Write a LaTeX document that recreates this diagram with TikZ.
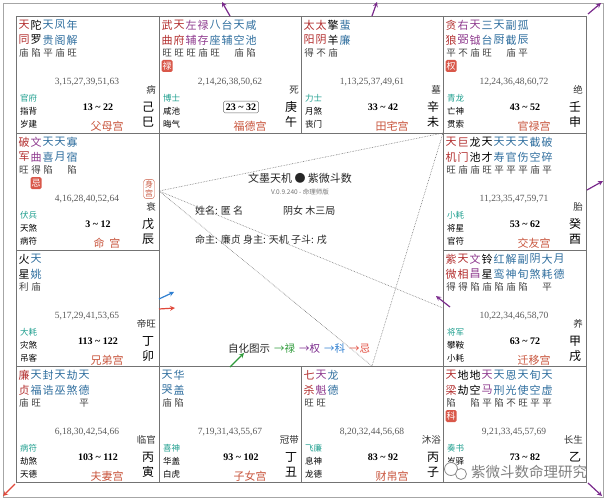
\documentclass[tikz,border=0pt]{standalone}
\usepackage{fontspec}
\setmainfont{Liberation Serif}
\newfontfamily\cjk{Noto Sans CJK SC}
\usetikzlibrary{arrows}

\definecolor{zhuxing}{HTML}{B22E2E}
\definecolor{fuxing}{HTML}{8E3A8E}
\definecolor{zaxing}{HTML}{2F6E9E}
\definecolor{boshi}{HTML}{1E9E8E}
\definecolor{gongming}{HTML}{C8553D}
\definecolor{huabg}{HTML}{D9584A}
\definecolor{lu}{HTML}{2E9A3A}
\definecolor{quan}{HTML}{7A2A8C}
\definecolor{ke}{HTML}{2F7FD0}
\definecolor{ji}{HTML}{E0483A}

\tikzstyle{star} = [inner sep=0pt, font=\cjk\fontsize{11}{11}\selectfont]
\tikzstyle{bright} = [inner sep=0pt, text=black!75, font=\cjk\fontsize{9.5}{10}\selectfont]
\tikzstyle{hua} = [inner sep=0pt, minimum width=11pt, minimum height=12pt, fill=huabg, rounded corners=1.5pt, text=white, font=\cjk\fontsize{9}{9}\selectfont]
\tikzstyle{nums} = [inner sep=0pt, text=black!65, font=\fontsize{9.5}{10}\selectfont]
\tikzstyle{small} = [inner sep=0pt, anchor=west, font=\cjk\fontsize{8.5}{9}\selectfont]
\tikzstyle{ages} = [inner sep=0pt, font=\bfseries\fontsize{10}{10}\selectfont]
\tikzstyle{gong} = [inner sep=0pt, text=gongming, font=\cjk\fontsize{11}{11}\selectfont]
\tikzstyle{ganzhi} = [inner sep=0pt, font=\cjk\fontsize{12}{12}\selectfont]
\tikzstyle{stage} = [inner sep=0pt, anchor=east, text=black!80, font=\cjk\fontsize{9.5}{10}\selectfont]
\tikzstyle{center} = [inner sep=0pt, text=black!85, font=\cjk\fontsize{10}{10}\selectfont]
\tikzstyle{arrow} = [->, >=stealth, line width=1.2pt]
\tikzstyle{sanfang} = [densely dotted, black!55, line width=0.6pt]

\newcommand{\til}{\textasciitilde}
% stars: colour/upper/lower/brightness
\newcommand{\xingyao}[2]{%
  \foreach \clr/\shang/\xia/\liang [count=\i from 0] in {#2} {
    \node[star, text=\clr] (#1-a\i) at (8+12*\i,9) {\shang};
    \node[star, text=\clr] (#1-b\i) at (8+12*\i,24) {\xia};
    \node[bright] (#1-m\i) at (8+12*\i,37) {\liang};
  }}
\newcommand{\huaji}[3]{\node[hua] (#1-hua) at (8+12*#2,50) {#3};}
\newcommand{\shensha}[4]{%
  \node[small, text=boshi] (#1-boshi) at (4,82) {#2};
  \node[small] (#1-jiang) at (4,95) {#3};
  \node[small] (#1-sui) at (4,108) {#4};}
\newcommand{\gongwei}[7]{%
  \node[nums] (#1-nums) at (71,66) {#2};
  \node[ages] (#1-age) at (82,91) {#3};
  \node[stage] (#1-stage) at (140,74) {#4};
  \node[ganzhi] (#1-gan) at (132,91) {#5};
  \node[ganzhi] (#1-zhi) at (132,106) {#6};
  \node[gong] (#1-name) at (91,110) {#7};}

\begin{document}
\begin{tikzpicture}[x=1pt, y=-1pt]
  \useasboundingbox (0,0) rectangle (607,500);
  \draw[black!35, line width=0.6pt] (3,3) rectangle (603,497);

  % grid
  \draw[black!55, line width=0.8pt] (16,16) rectangle (586,482);
  \draw[black!55, line width=0.8pt] (16,133) -- (586,133);
  \draw[black!55, line width=0.8pt] (16,366) -- (586,366);
  \draw[black!55, line width=0.8pt] (16,250) -- (159,250);
  \draw[black!55, line width=0.8pt] (443,250) -- (586,250);
  \draw[black!55, line width=0.8pt] (159,16) -- (159,482);
  \draw[black!55, line width=0.8pt] (443,16) -- (443,482);
  \draw[black!55, line width=0.8pt] (301,16) -- (301,133);
  \draw[black!55, line width=0.8pt] (301,366) -- (301,482);

  % si
  \begin{scope}[shift={(16,16)}]
    \xingyao{si}{zhuxing/天/同/庙, black/陀/罗/陷, zaxing/天/贵/平, zaxing/凤/阁/庙, zaxing/年/解/旺}
    \shensha{si}{官府}{指背}{岁建}
    \gongwei{si}{3,15,27,39,51,63}{13 \til{} 22}{病}{己}{巳}{父母宫}
  \end{scope}
  % wu
  \begin{scope}[shift={(159,16)}]
    \xingyao{wu}{zhuxing/武/曲/旺, zhuxing/天/府/旺, fuxing/左/辅/旺, fuxing/禄/存/庙, zaxing/八/座/旺, zaxing/台/辅/{}, zaxing/天/空/庙, zaxing/咸/池/陷}
    \huaji{wu}{0}{禄}
    \shensha{wu}{博士}{咸池}{晦气}
    \gongwei{wu}{2,14,26,38,50,62}{}{死}{庚}{午}{福德宫}
    \node[ages, draw=black!60, rounded corners=1.5pt, inner sep=2.5pt] (wu-agebox) at (82,91) {23 \til{} 32};
  \end{scope}
  % wei
  \begin{scope}[shift={(301,16)}]
    \xingyao{wei}{zhuxing/太/阳/得, zhuxing/太/阴/不, black/擎/羊/庙, zaxing/蜚/廉/{}}
    \shensha{wei}{力士}{月煞}{丧门}
    \gongwei{wei}{1,13,25,37,49,61}{33 \til{} 42}{墓}{辛}{未}{田宅宫}
  \end{scope}
  % shen
  \begin{scope}[shift={(443,16)}]
    \xingyao{shen}{zhuxing/贪/狼/平, fuxing/右/弼/不, fuxing/天/钺/庙, zaxing/三/台/旺, zaxing/天/厨/{}, zaxing/副/截/庙, zaxing/孤/辰/平}
    \huaji{shen}{0}{权}
    \shensha{shen}{青龙}{亡神}{贯索}
    \gongwei{shen}{12,24,36,48,60,72}{43 \til{} 52}{绝}{壬}{申}{官禄宫}
  \end{scope}
  % chen
  \begin{scope}[shift={(16,133)}]
    \xingyao{chen}{zhuxing/破/军/旺, fuxing/文/曲/得, zaxing/天/喜/陷, zaxing/天/月/{}, zaxing/寡/宿/陷}
    \huaji{chen}{1}{忌}
    \node[draw=gongming, rounded corners=3pt, inner sep=1.5pt, align=center, text=gongming, font=\cjk\fontsize{8}{9}\selectfont] (shengong) at (133,56) {身\\宫};
    \shensha{chen}{伏兵}{天煞}{病符}
    \gongwei{chen}{4,16,28,40,52,64}{3 \til{} 12}{衰}{戊}{辰}{命\hspace{5pt}宫}
  \end{scope}
  % you
  \begin{scope}[shift={(443,133)}]
    \xingyao{you}{zhuxing/天/机/旺, zhuxing/巨/门/庙, black/龙/池/庙, black/天/才/旺, zaxing/天/寿/平, zaxing/天/官/平, zaxing/天/伤/平, zaxing/截/空/庙, zaxing/破/碎/平}
    \shensha{you}{小耗}{将星}{官符}
    \gongwei{you}{11,23,35,47,59,71}{53 \til{} 62}{胎}{癸}{酉}{交友宫}
  \end{scope}
  % mao
  \begin{scope}[shift={(16,250)}]
    \xingyao{mao}{black/火/星/利, zaxing/天/姚/庙}
    \shensha{mao}{大耗}{灾煞}{吊客}
    \gongwei{mao}{5,17,29,41,53,65}{113 \til{} 122}{帝旺}{丁}{卯}{兄弟宫}
  \end{scope}
  % xu
  \begin{scope}[shift={(443,250)}]
    \xingyao{xu}{zhuxing/紫/微/得, zhuxing/天/相/得, fuxing/文/昌/陷, black/铃/星/庙, zaxing/红/鸾/陷, zaxing/解/神/庙, zaxing/副/旬/陷, zaxing/阴/煞/{}, zaxing/大/耗/平, zaxing/月/德/{}}
    \shensha{xu}{将军}{攀鞍}{小耗}
    \gongwei{xu}{10,22,34,46,58,70}{63 \til{} 72}{养}{甲}{戌}{迁移宫}
  \end{scope}
  % yin
  \begin{scope}[shift={(16,366)}]
    \xingyao{yin}{zhuxing/廉/贞/庙, zaxing/天/福/旺, zaxing/封/诰/{}, zaxing/天/巫/{}, zaxing/劫/煞/{}, zaxing/天/德/平}
    \shensha{yin}{病符}{劫煞}{天德}
    \gongwei{yin}{6,18,30,42,54,66}{103 \til{} 112}{临官}{丙}{寅}{夫妻宫}
  \end{scope}
  % chou
  \begin{scope}[shift={(159,366)}]
    \xingyao{chou}{zaxing/天/哭/庙, zaxing/华/盖/陷}
    \shensha{chou}{喜神}{华盖}{白虎}
    \gongwei{chou}{7,19,31,43,55,67}{93 \til{} 102}{冠带}{丁}{丑}{子女宫}
  \end{scope}
  % zi
  \begin{scope}[shift={(301,366)}]
    \xingyao{zi}{zhuxing/七/杀/旺, fuxing/天/魁/旺, zaxing/龙/德/{}}
    \shensha{zi}{飞廉}{息神}{龙德}
    \gongwei{zi}{8,20,32,44,56,68}{83 \til{} 92}{沐浴}{丙}{子}{财帛宫}
  \end{scope}
  % hai (bottom lines lie under the watermark)
  \begin{scope}[shift={(443,366)}]
    \xingyao{hai}{zhuxing/天/梁/陷, black/地/劫/{}, black/地/空/陷, fuxing/天/马/平, zaxing/天/刑/陷, zaxing/恩/光/不, zaxing/天/使/旺, zaxing/旬/空/平, zaxing/天/虚/平}
    \huaji{hai}{0}{科}
    \node[small, text=boshi] (hai-boshi) at (4,82) {奏书};
    \node[small] (hai-jiang) at (4,95) {岁驿};
    \node[nums] (hai-nums) at (71,66) {9,21,33,45,57,69};
    \node[ages] (hai-age) at (82,91) {73 \til{} 82};
    \node[stage] (hai-stage) at (140,74) {长生};
    \node[ganzhi] (hai-gan) at (132,91) {乙};
  \end{scope}

  % centre
  \node[center, font=\cjk\fontsize{11}{11}\selectfont] (title) at (300,178) {文墨天机 ● 紫微斗数};
  \node[center, text=black!55, font=\cjk\fontsize{6.5}{7}\selectfont] (version) at (300,192) {V.0.9.240 - 命理师版};
  \node[center, anchor=west] (xingming) at (195,211) {姓名: 匿 名};
  \node[center, anchor=west] (yinnv) at (283,211) {阴女 木三局};
  \node[center, anchor=west] (mingzhu) at (195,240) {命主: 廉贞 身主: 天机 子斗: 戌};
  \node[center, anchor=west, font=\cjk\fontsize{10.5}{11}\selectfont] (legend) at (228,349)
    {自化图示\hspace{4pt}\textcolor{lu}{→禄}\hspace{4pt}\textcolor{quan}{→权}\hspace{4pt}\textcolor{ke}{→科}\hspace{4pt}\textcolor{ji}{→忌}};

  % san fang si zheng
  \coordinate (ming-pt) at (159,191);
  \coordinate (guan-pt) at (443,133);
  \coordinate (cai-pt) at (372,366);
  \coordinate (qian-pt) at (443,308);
  \draw[sanfang] (ming-pt) -- (guan-pt) -- (cai-pt) -- (ming-pt);
  \draw[sanfang] (ming-pt) -- (qian-pt);

  % zi hua arrows
  \coordinate (wu-t) at (230,16);   \coordinate (wu-h) at (222,2);
  \coordinate (wei-t) at (372,16);  \coordinate (wei-h) at (377,2);
  \coordinate (shen-t) at (588,14); \coordinate (shen-h) at (601,3);
  \coordinate (you-t) at (587,190); \coordinate (you-h) at (603,181);
  \coordinate (hai-t) at (588,483); \coordinate (hai-h) at (602,496);
  \coordinate (yin-t) at (15,484);  \coordinate (yin-h) at (3,496);
  \coordinate (mao-t1) at (159,299); \coordinate (mao-h1) at (174,292);
  \coordinate (mao-t2) at (159,309); \coordinate (mao-h2) at (175,308);
  \coordinate (chou-t) at (230,367); \coordinate (chou-h) at (244,353);
  \coordinate (xu-t) at (450,307);  \coordinate (xu-h) at (436,296);
  \draw[arrow, quan] (wu-t) -- (wu-h);
  \draw[arrow, quan] (wei-t) -- (wei-h);
  \draw[arrow, quan] (shen-t) -- (shen-h);
  \draw[arrow, quan] (you-t) -- (you-h);
  \draw[arrow, quan] (hai-t) -- (hai-h);
  \draw[arrow, ji] (yin-t) -- (yin-h);
  \draw[arrow, ke] (mao-t1) -- (mao-h1);
  \draw[arrow, ji] (mao-t2) -- (mao-h2);
  \draw[arrow, lu] (chou-t) -- (chou-h);
  \draw[arrow, quan] (xu-t) -- (xu-h);

  % watermark
  \draw[black!45, line width=0.8pt, fill=white] (451,469) circle (6.5);
  \draw[black!45, line width=0.8pt, fill=white] (461,474) circle (5.5);
  \node[inner sep=1pt, text=black!50, font=\cjk\fontsize{14.5}{15}\selectfont] (watermark) at (529,472) {紫微斗数命理研究};
\end{tikzpicture}
\end{document}
